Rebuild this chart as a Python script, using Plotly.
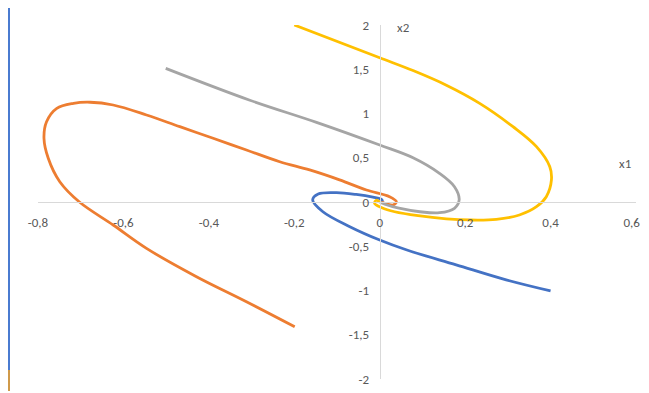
import plotly.graph_objects as go

# trajectories in the (x1, x2) phase plane
blue_x1 = [0.40, 0.296, 0.179, 0.062, 0.0, -0.070, -0.133, -0.157, -0.144, -0.101, -0.055, -0.016, 0.004, 0.006, 0.0]
blue_x2 = [-1.005, -0.88, -0.71, -0.54, -0.43, -0.279, -0.11, 0.023, 0.09, 0.105, 0.085, 0.055, 0.03, 0.01, 0.0]

orange_x1 = [-0.199, -0.312, -0.429, -0.546, -0.624, -0.703, -0.749, -0.776, -0.786, -0.780,
             -0.756, -0.717, -0.678, -0.624, -0.546, -0.468, -0.390, -0.312, -0.234, -0.164,
             -0.094, -0.031, 0.023, 0.039, 0.031, 0.016, 0.003]
orange_x2 = [-1.41, -1.127, -0.844, -0.524, -0.26, 0.0, 0.229, 0.494, 0.72, 0.907,
             1.059, 1.115, 1.127, 1.096, 0.983, 0.851, 0.720, 0.588, 0.455, 0.362,
             0.25, 0.136, 0.06, 0.003, -0.034, -0.02, 0.0]

gray_x1 = [-0.501, -0.304, -0.148, 0.0, 0.078, 0.14, 0.175, 0.186, 0.175, 0.14, 0.094, 0.045, 0.012, 0.0]
gray_x2 = [1.51, 1.15, 0.90, 0.644, 0.50, 0.324, 0.173, 0.023, -0.071, -0.121, -0.11, -0.07, -0.025, 0.0]

yellow_x1 = [-0.2, 0.0, 0.078, 0.156, 0.234, 0.312, 0.367, 0.398, 0.402, 0.39, 0.367, 0.327, 0.273,
             0.211, 0.156, 0.09, 0.035, 0.005, -0.012, -0.008, 0.0]
yellow_x2 = [2.0, 1.63, 1.485, 1.32, 1.115, 0.851, 0.625, 0.40, 0.249, 0.06, -0.053, -0.147, -0.196,
             -0.203, -0.19, -0.155, -0.11, -0.065, -0.015, 0.02, 0.0]

xtick_vals = [-0.8, -0.6, -0.4, -0.2, 0, 0.2, 0.4, 0.6]
# last label nudged left (as Excel does) with no-break spaces so it stays inside the window
xtick_text = ["-0,8", "-0,6", "-0,4", "-0,2", "0", "0,2", "0,4", "0,6\u00a0\u00a0\u00a0"]
ytick_vals = [-2, -1.5, -1, -0.5, 0, 0.5, 1, 1.5, 2]
ytick_text = ["-2", "-1,5", "-1", "-0,5", "0", "0,5", "1", "1,5", "2"]

# the page puts the plot 8px in from the top-left corner, so work in figure pixels
OFF = 8
W, H = 649 - OFF, 393 - OFF
L, R, T, B = 38 - OFF, 636 - OFF, 25 - OFF, 379 - OFF


def px(x):
    return (x - OFF - L) / (R - L)


def py(y):
    return (B - (y - OFF)) / (B - T)


fig = go.Figure()
series = [
    (blue_x1, blue_x2, "#4472C4"),
    (orange_x1, orange_x2, "#ED7D31"),
    (gray_x1, gray_x2, "#A5A5A5"),
    (yellow_x1, yellow_x2, "#FFC000"),
]
for xs, ys, col in series:
    fig.add_trace(go.Scatter(x=xs, y=ys, mode="lines",
                             line=dict(color=col, width=2.8, shape="spline", smoothing=1.0),
                             showlegend=False, hoverinfo="skip"))

tickfont = dict(family="Carlito, Lato, Liberation Sans, sans-serif", size=13, color="#595959")

fig.update_layout(
    width=W, height=H,
    margin=dict(l=L, r=W - R, t=T, b=H - B),
    paper_bgcolor="white", plot_bgcolor="white",
    xaxis=dict(range=[-0.8, 0.6], tickvals=xtick_vals, ticktext=xtick_text,
               anchor="free", position=0.5, showline=True, linecolor="#d9d9d9", linewidth=1,
               showgrid=False, zeroline=False, ticks="outside", ticklen=8, automargin=False,
               ticklabeloverflow="allow", tickcolor="rgba(0,0,0,0)", tickfont=tickfont),
    yaxis=dict(range=[-2, 2], tickvals=ytick_vals, ticktext=ytick_text,
               anchor="free", position=0.8 / 1.4, showline=True, linecolor="#d9d9d9", linewidth=1,
               showgrid=False, zeroline=False, ticks="outside", ticklen=8, automargin=False,
               ticklabeloverflow="allow", tickcolor="rgba(0,0,0,0)", tickfont=tickfont),
    annotations=[
        dict(text="x1", x=px(625), y=py(163), xref="paper", yref="paper", showarrow=False,
             font=tickfont, xanchor="center", yanchor="middle"),
        dict(text="x2", x=px(403), y=py(28), xref="paper", yref="paper", showarrow=False,
             font=tickfont, xanchor="center", yanchor="middle"),
    ],
    shapes=[
        dict(type="line", xref="paper", yref="paper", x0=px(9), x1=px(9), y0=py(8), y1=py(370),
             line=dict(color="#4A7BD0", width=2)),
        dict(type="line", xref="paper", yref="paper", x0=px(9), x1=px(9), y0=py(370), y1=py(391),
             line=dict(color="#D09A4A", width=2)),
    ],
)

fig.write_html("out.html")
